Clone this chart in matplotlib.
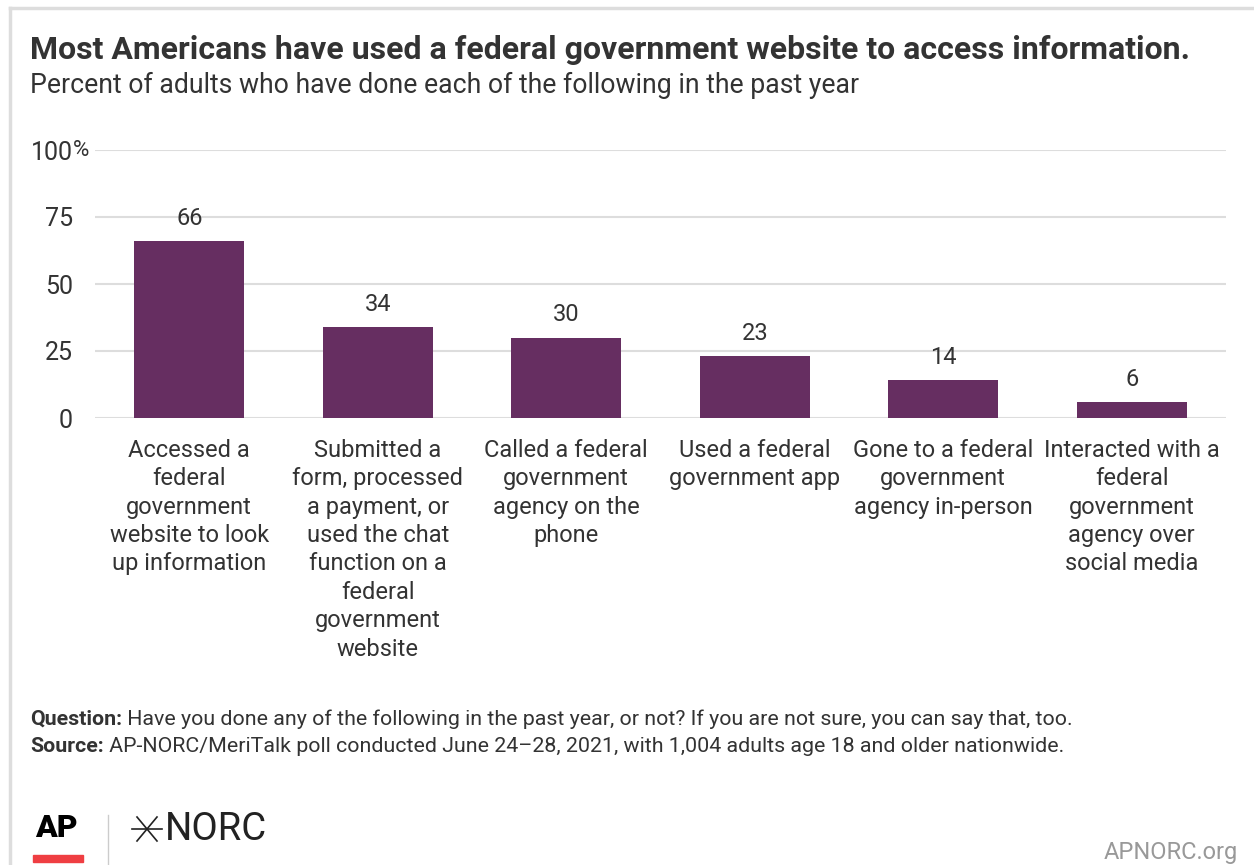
import matplotlib
matplotlib.use('Agg')
import matplotlib.pyplot as plt
from matplotlib.lines import Line2D
from matplotlib.patches import Rectangle

plt.rcParams['font.family'] = ['Roboto', 'DejaVu Sans']

categories = [
    "Accessed a\nfederal\ngovernment\nwebsite to look\nup information",
    "Submitted a\nform, processed\na payment, or\nused the chat\nfunction on a\nfederal\ngovernment\nwebsite",
    "Called a federal\ngovernment\nagency on the\nphone",
    "Used a federal\ngovernment app",
    "Gone to a federal\ngovernment\nagency in-person",
    "Interacted with a\nfederal\ngovernment\nagency over\nsocial media",
]
values = [66, 34, 30, 23, 14, 6]
yticks = [0, 25, 50, 75, 100]
ytick_labels = ["0", "25", "50", "75", "100"]

bar_color = "#662e61"
text_color = "#333333"
grid_color = "#dddddd"

W, H = 1254, 865
fig = plt.figure(figsize=(W / 100, H / 100), dpi=100)


def fx(px):
    return px / W


def fy(py):
    return 1 - py / H


# card border (top and left edges)
fig.add_artist(Line2D([fx(10), 1], [fy(8), fy(8)], color=grid_color, lw=2.5))
fig.add_artist(Line2D([fx(10), fx(10)], [0, fy(8)], color=grid_color, lw=2.5))

ax = fig.add_axes([fx(95), fy(418), 1131 / W, 268 / H])
x = range(len(values))
ax.bar(x, values, width=0.585, color=bar_color, zorder=3)
for xi, v in zip(x, values):
    ax.text(xi, v + 8.5, str(v), ha='center', va='center', fontsize=17, color=text_color)

ax.set_xlim(-0.5, len(values) - 0.5)
ax.set_ylim(0, 100)
ax.set_yticks(yticks)
ax.set_yticklabels(ytick_labels, fontsize=18, color=text_color)
ax.yaxis.grid(True, color=grid_color, lw=1.5, zorder=0)
ax.tick_params(axis='y', length=0, pad=16)
ax.tick_params(axis='x', length=0, pad=15)
ax.set_xticks(list(x))
ax.set_xticklabels(categories, fontsize=17, color=text_color, linespacing=1.3, va='top')
for s in ax.spines.values():
    s.set_visible(False)
ax.set_axisbelow(True)
# percent sign trails the top tick label
fig.text(fx(73), fy(150), "%", fontsize=16, color=text_color, ha='left', va='center')

fig.text(fx(30), fy(50), "Most Americans have used a federal government website to access information.",
         fontsize=23, fontweight='bold', color=text_color, va='center')
fig.text(fx(30), fy(85), "Percent of adults who have done each of the following in the past year",
         fontsize=19.2, color=text_color, va='center')

renderer = fig.canvas.get_renderer()
for py, head, body in [
    (719, "Question:", " Have you done any of the following in the past year, or not? If you are not sure, you can say that, too."),
    (746, "Source:", " AP-NORC/MeriTalk poll conducted June 24\u201328, 2021, with 1,004 adults age 18 and older nationwide."),
]:
    t = fig.text(fx(30), fy(py), head, fontsize=15.4, fontweight='bold', color=text_color, va='center')
    bb = t.get_window_extent(renderer)
    fig.text(bb.x1 / W, fy(py), body, fontsize=15.4, color=text_color, va='center')

# logos
fig.text(fx(35), fy(828), "AP", fontsize=23, fontweight='heavy', color='black', va='center')
fig.add_artist(Rectangle((fx(33), fy(862)), 50 / W, 7 / H, color='#ef3e42'))
fig.add_artist(Line2D([fx(108), fx(108)], [fy(865), fy(815)], color='#cccccc', lw=1))
cx, cy = 147, 829
for dx, dy in [(15, 0), (10, 12), (10, -12)]:
    fig.add_artist(Line2D([fx(cx - dx), fx(cx + dx)], [fy(cy - dy), fy(cy + dy)],
                          color='#222222', lw=1.2))
fig.text(fx(165), fy(829), "NORC", fontsize=27.5, color='#222222', va='center')
fig.text(fx(1238), fy(853), "APNORC.org", fontsize=17, color='#999999', ha='right', va='center')

fig.savefig("out.png", dpi=100)
